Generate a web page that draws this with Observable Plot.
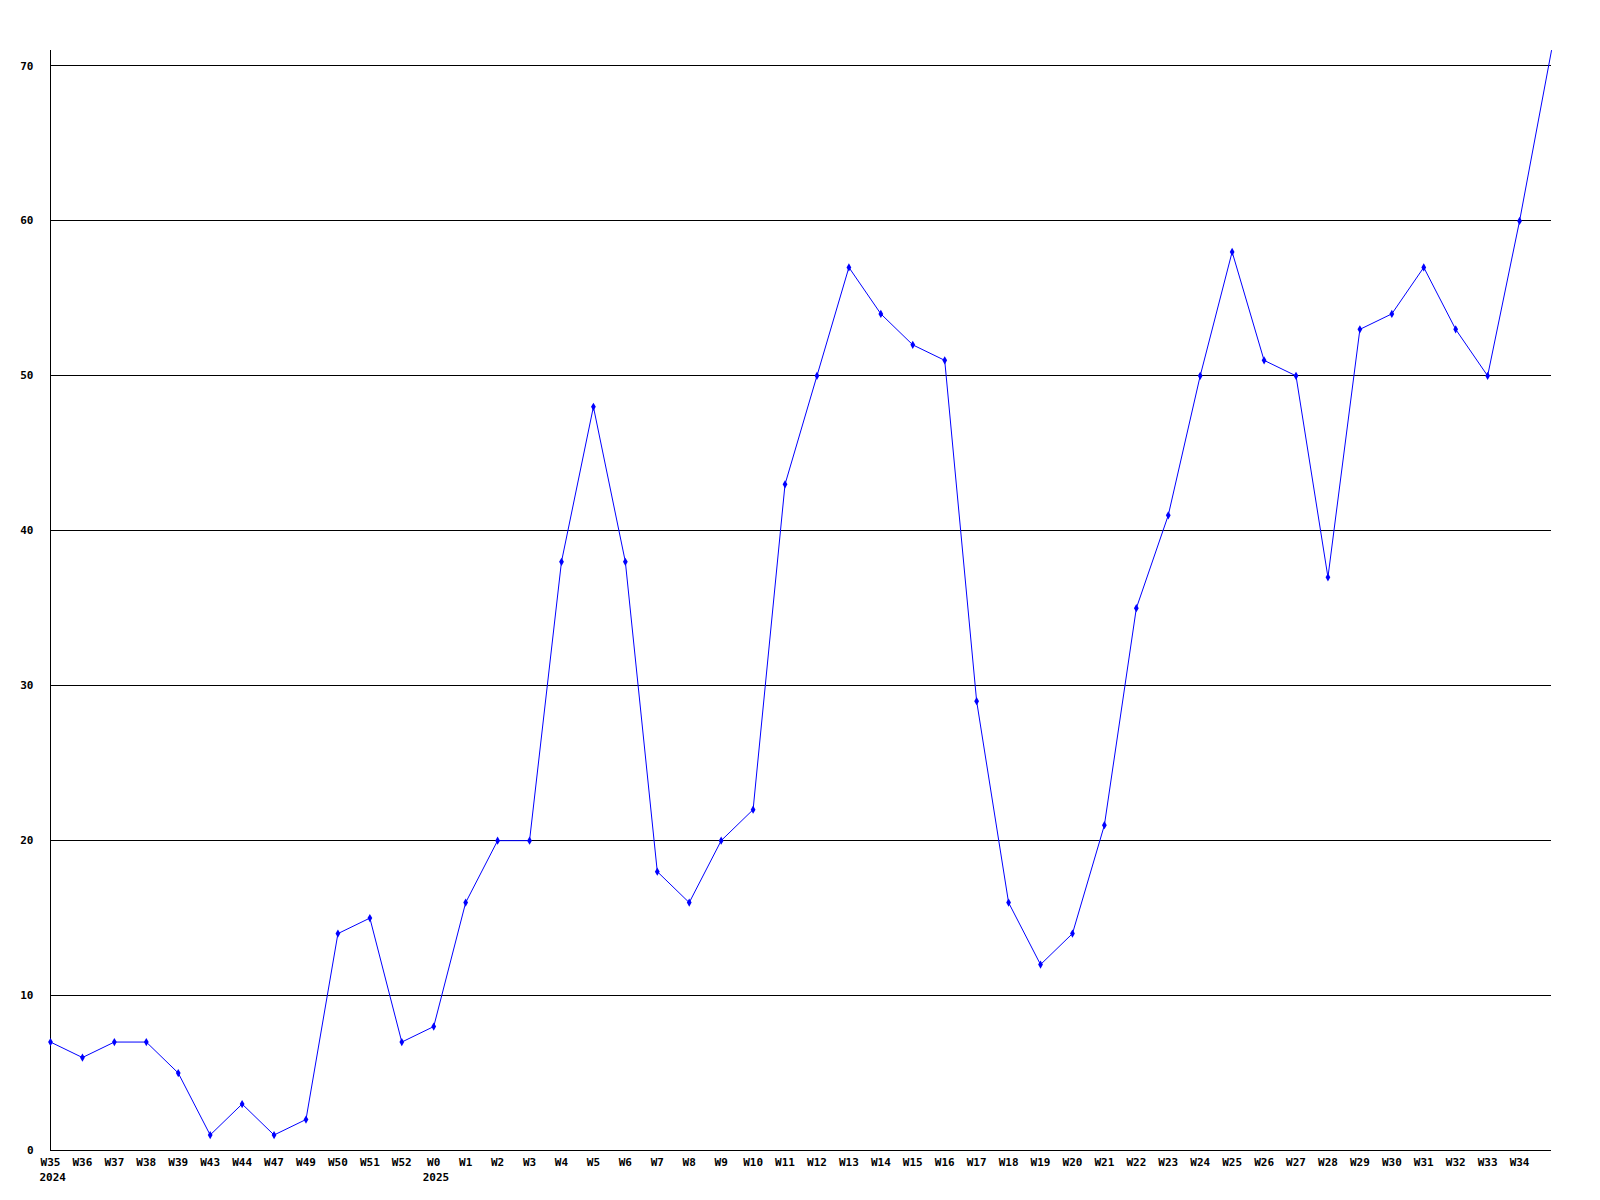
<!DOCTYPE html>
<html>
<head>
<meta charset="utf-8">
<script src="https://cdn.jsdelivr.net/npm/d3@7"></script>
<script src="https://cdn.jsdelivr.net/npm/@observablehq/plot@0.6"></script>
<style>
  html, body { margin: 0; padding: 0; background: #fff; }
</style>
</head>
<body>
<div id="chart"></div>
<script>
const weekLabels = ["W35","W36","W37","W38","W39","W43","W44","W47","W49","W50","W51","W52",
  "W0","W1","W2","W3","W4","W5","W6","W7","W8","W9","W10","W11","W12","W13","W14","W15","W16",
  "W17","W18","W19","W20","W21","W22","W23","W24","W25","W26","W27","W28","W29","W30","W31","W32","W33","W34",""];
const counts = [7,6,7,7,5,1,3,1,2,14,15,7,
  8,16,20,20,38,48,38,18,16,20,22,43,50,57,54,52,51,
  29,16,12,14,21,35,41,50,58,51,50,37,53,54,57,53,50,60,71];
const yearLabels = [{i: 0, year: "2024"}, {i: 12, year: "2025"}];
const yTicks = [0,10,20,30,40,50,60,70];

const data = counts.map((v, i) => ({i, v, label: weekLabels[i]}));

const chart = Plot.plot({
  width: 1600,
  height: 1200,
  marginLeft: 50,
  marginRight: 49,
  marginTop: 50,
  marginBottom: 50,
  style: {fontFamily: "'DejaVu Sans Mono', monospace", fontSize: "11px", fontWeight: "bold", background: "#fff", color: "#000"},
  x: {domain: [0, 47], axis: null},
  y: {domain: [0, 71], axis: null},
  marks: [
    Plot.ruleY(yTicks.filter(d => d > 0), {stroke: "#000", strokeWidth: 1, shapeRendering: "crispEdges"}),
    Plot.ruleY([0], {stroke: "#000", strokeWidth: 1, shapeRendering: "crispEdges"}),
    Plot.ruleX([0], {y1: 0, y2: 71, stroke: "#000", strokeWidth: 1, shapeRendering: "crispEdges"}),
    Plot.axisY({ticks: yTicks, tickSize: 0, tickPadding: 17, label: null, fontWeight: "bold"}),
    Plot.text(data.filter(d => d.label !== ""), {x: "i", y: 0, text: "label", dy: 12, fill: "#000", fontWeight: "bold"}),
    Plot.text(yearLabels, {x: "i", y: 0, text: "year", dy: 27, dx: -11, textAnchor: "start", fill: "#000", fontWeight: "bold"}),
    Plot.line(data, {x: "i", y: "v", stroke: "#0000ff", strokeWidth: 1}),
    Plot.dot(data.filter(d => d.label !== ""), {x: "i", y: "v", symbol: "diamond", r: 2.5, fill: "#0000ff", stroke: "none"})
  ]
});
document.getElementById("chart").appendChild(chart);
</script>
</body>
</html>
